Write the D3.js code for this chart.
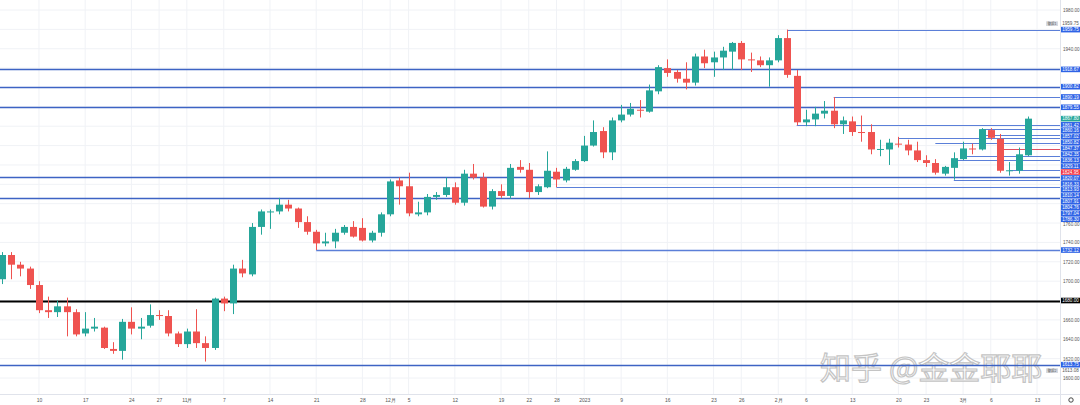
<!DOCTYPE html>
<html><head><meta charset="utf-8">
<script src="https://cdn.jsdelivr.net/npm/d3@7"></script>
<style>body{margin:0;background:#fff}svg{display:block}</style>
</head><body>
<svg id="c" width="1080" height="405"></svg>
<script>
// ---------------- DATA ----------------
const dates = [
"2022-10-04","2022-10-05","2022-10-06","2022-10-07",
"2022-10-10","2022-10-11","2022-10-12","2022-10-13","2022-10-14",
"2022-10-17","2022-10-18","2022-10-19","2022-10-20","2022-10-21",
"2022-10-24","2022-10-25","2022-10-26","2022-10-27","2022-10-28",
"2022-10-31","2022-11-01","2022-11-02","2022-11-03","2022-11-04",
"2022-11-07","2022-11-08","2022-11-09","2022-11-10","2022-11-11",
"2022-11-14","2022-11-15","2022-11-16","2022-11-17","2022-11-18",
"2022-11-21","2022-11-22","2022-11-23","2022-11-24","2022-11-25",
"2022-11-28","2022-11-29","2022-11-30","2022-12-01","2022-12-02",
"2022-12-05","2022-12-06","2022-12-07","2022-12-08","2022-12-09",
"2022-12-12","2022-12-13","2022-12-14","2022-12-15","2022-12-16",
"2022-12-19","2022-12-20","2022-12-21","2022-12-22","2022-12-23",
"2022-12-27","2022-12-28","2022-12-29","2022-12-30",
"2023-01-03","2023-01-04","2023-01-05","2023-01-06",
"2023-01-09","2023-01-10","2023-01-11","2023-01-12","2023-01-13",
"2023-01-16","2023-01-17","2023-01-18","2023-01-19","2023-01-20",
"2023-01-23","2023-01-24","2023-01-25","2023-01-26","2023-01-27",
"2023-01-30","2023-01-31","2023-02-01","2023-02-02","2023-02-03",
"2023-02-06","2023-02-07","2023-02-08","2023-02-09","2023-02-10",
"2023-02-13","2023-02-14","2023-02-15","2023-02-16","2023-02-17",
"2023-02-20","2023-02-21","2023-02-22","2023-02-23","2023-02-24",
"2023-02-27","2023-02-28","2023-03-01","2023-03-02","2023-03-03",
"2023-03-06","2023-03-07","2023-03-08","2023-03-09","2023-03-10"];
const futureDates = ["2023-03-13"];

const open = [1702,1727,1717,1713,1696,1670,1668,1674,1668,1646,1651,1652,1630,1628,1658,1651,1654,1665,1664,1646,
1635,1648,1636,1631,1682,1677,1713,1707,1756,1771,1772,1779,1775,1761,1751,1739,1741,1750,1756,1755,
1742,1750,1769,1804,1798,1769,1771,1787,1789,1797,1781,1811,1807,1777,1793,1788,1818,1815,1792,1797,
1813,1804,1815,1824,1840,1855,1833,1866,1872,1877,1875,1896,1920,1916,1909,1905,1932,1926,1931,1937,
1946,1929,1928,1923,1928,1951,1912,1864,1867,1873,1876,1862,1865,1854,1854,1836,1836,1842,1841,1835,
1825,1822,1811,1817,1826,1837,1836,1856,1847,1814,1814,1830];
const high = [1730,1730,1720,1715,1700,1684,1680,1683,1671,1668,1662,1653,1637,1661,1673,1662,1676,1670,1670,1648,
1651,1671,1643,1683,1684,1717,1722,1760,1774,1774,1786,1784,1776,1767,1753,1750,1754,1758,1762,1765,
1752,1771,1805,1807,1812,1782,1790,1792,1807,1802,1815,1821,1812,1795,1800,1821,1825,1822,1800,1834,
1817,1818,1826,1850,1866,1859,1869,1882,1884,1887,1903,1923,1929,1918,1926,1935,1939,1937,1942,1947,
1948,1936,1932,1931,1954,1959.75,1918,1877,1880,1886,1890.19,1870,1870,1871,1862,1846,1847,1849,1846,1844,
1830,1826,1819,1833,1844,1842,1858,1858,1852,1823,1838,1870];
const low = [1697,1702,1705,1692,1667,1662,1663,1643,1643,1643,1648,1630,1625,1619,1645,1640,1652,1660,1643,1632,
1631,1631,1617,1629,1669,1666,1704,1705,1748,1754,1769,1772,1755,1748,1732.12,1736,1734,1748,1745,1741,
1740,1746,1767,1779,1767,1767,1768,1784,1787,1779,1778,1805,1776,1774,1786,1785,1812,1786,1789,1796,
1797.04,1802,1814,1823,1839,1827,1825,1864,1870,1869,1874,1893,1911,1905,1898,1902,1920,1911,1918,1918,
1918,1916,1921,1900.82,1926,1910,1861,1860,1860,1868,1858,1852,1850,1844,1831,1829,1820,1838,1830,1823,
1818,1810,1809,1804.76,1825,1831,1835,1846,1812,1809,1811,1829];
const close = [1727,1717,1713,1696,1670,1668,1674,1668,1645,1651,1653,1631,1628,1658,1651,1653,1665,1664,1646,1635,
1648,1636,1631,1682,1677,1713,1708,1756,1772,1772,1779,1775,1761,1751,1739,1741,1750,1756,1746,1742,
1750,1769,1803,1798,1770,1771,1787,1789,1797,1781,1811,1807,1777,1793,1788,1817,1815,1792,1798,1814,
1805,1816,1824,1840,1854,1833,1866,1872,1878,1876,1897,1921,1915,1909,1905,1932,1925,1931,1938,1946,
1929,1928,1923,1928,1951,1913,1864,1867,1873,1876,1862,1866,1854,1853,1836,1836.5,1843,1841,1835,1825,
1822,1812,1818,1827,1837,1836,1857,1848,1814,1814.5,1831,1867.8];

// horizontal levels drawn on the chart (value, anchor date or null = whole width)
const levelValues = [1959.75,1918.67,1900.82,1890.19,1879.55,1861.42,1857.02,1850.82,1847.37,1842.35,1836.13,1829.11,1824.95,1814.33,1807.91,1804.76,1797.04,1786.30,1732.12,1680.00,1613.75];
const levelAnchors = ["2023-02-02",null,null,"2023-02-09",null,"2023-02-03","2023-03-03","2023-03-03","2023-02-20","2023-02-24","2023-03-07","2023-03-01","2023-02-28","2023-03-08",null,"2023-02-28","2022-12-28",null,"2022-11-21",null,null];

// price-scale labels
const priceLabels = [1959.75,1918.67,1900.82,1890.19,1879.55,1867.80,1861.42,1860.16,1857.02,1850.82,1847.37,1842.35,1836.13,1829.11,1824.95,1820.07,1816.33,1813.93,1810.14,1807.91,1804.76,1797.04,1786.30,1732.12,1680.00,1613.75];
const lastPrice = 1867.80;
const redLabel = 1824.95;
const blackLevel = 1680.00;
const alertTop = {text:"警报1", value:1959.75};
const alertBottom = {text:"警报2", value:1613.08};

const priceTicks = [1600,1620,1640,1660,1680,1700,1720,1740,1760,1780,1800,1820,1840,1860,1880,1900,1920,1940,1960,1980];
const timeTicks = [
["2022-10-10","10"],["2022-10-17","17"],["2022-10-24","24"],["2022-10-27","27"],["2022-11-01","11月"],
["2022-11-07","7"],["2022-11-14","14"],["2022-11-21","21"],["2022-11-28","28"],["2022-12-01","12月"],
["2022-12-05","5"],["2022-12-12","12"],["2022-12-19","19"],["2022-12-22","22"],["2022-12-28","28"],
["2023-01-03","2023"],["2023-01-09","9"],["2023-01-16","16"],["2023-01-23","23"],["2023-01-26","26"],
["2023-02-01","2月"],["2023-02-06","6"],["2023-02-13","13"],["2023-02-20","20"],["2023-02-23","23"],
["2023-03-01","3月"],["2023-03-06","6"],["2023-03-13","13"]];
const watermark = "知乎 @金金耶耶";

// ---------------- DRAW ----------------
const svg = d3.select("#c");
const W = 1080, H = 405, plotR = 1060, plotB = 394;
const allDates = dates.concat(futureDates);
const x = d3.scaleLinear().domain([0, allDates.length - 1]).range([2, 1037]);
const y = d3.scaleLinear().domain([1600, 1980]).range([378, 10]);
const xi = d => allDates.indexOf(d);
const font = "'Liberation Sans', Arial, sans-serif";

svg.append("rect").attr("width", W).attr("height", H).attr("fill", "#fff");

// grid
const grid = svg.append("g");
grid.selectAll("line.h").data(priceTicks).join("line")
  .attr("x1", 0).attr("x2", plotR).attr("y1", d => y(d)).attr("y2", d => y(d))
  .attr("stroke", "#f0f2f6").attr("stroke-width", 1);
grid.selectAll("line.v").data(timeTicks).join("line")
  .attr("x1", d => x(xi(d[0]))).attr("x2", d => x(xi(d[0])))
  .attr("y1", 0).attr("y2", plotB)
  .attr("stroke", "#f0f2f6").attr("stroke-width", 1);

// watermark
svg.append("text").attr("x", 820).attr("y", 379)
  .attr("font-family", "'Noto Sans CJK SC', sans-serif").attr("font-size", 31)
  .attr("fill", "rgba(255,255,255,0.5)").attr("stroke", "#c4c4c4").attr("stroke-width", 1.2)
  .text(watermark);

// levels
const levels = levelValues.map((v, k) => ({v, a: levelAnchors[k]}));
svg.append("g").selectAll("line").data(levels).join("line")
  .attr("x1", d => d.a ? x(xi(d.a)) : 0).attr("x2", plotR)
  .attr("y1", d => Math.round(y(d.v)) + 0.5).attr("y2", d => Math.round(y(d.v)) + 0.5)
  .attr("stroke", d => d.v === blackLevel ? "#000" : (d.v === 1836.13 ? "#e05060" : (d.a ? "#5b7fd8" : "#3d63c4")))
  .attr("stroke-width", d => d.v === blackLevel ? 2 : (d.a && d.v !== 1732.12 ? 1 : 1.5));

// candles
const up = "#26a69a", dn = "#ef5350";
const cdl = svg.append("g");
const cd = dates.map((d, i) => ({i, o: open[i], h: high[i], l: low[i], c: close[i]}));
cdl.selectAll("line").data(cd).join("line")
  .attr("x1", d => Math.round(x(d.i)) + 0.5).attr("x2", d => Math.round(x(d.i)) + 0.5)
  .attr("y1", d => y(d.h)).attr("y2", d => y(d.l))
  .attr("stroke", d => d.c >= d.o ? up : dn).attr("stroke-width", 1);
cdl.selectAll("rect").data(cd).join("rect")
  .attr("x", d => Math.round(x(d.i)) + 0.5 - 3.5).attr("width", 7)
  .attr("y", d => y(Math.max(d.o, d.c)))
  .attr("height", d => Math.max(1, Math.abs(y(d.o) - y(d.c))))
  .attr("fill", d => d.c >= d.o ? up : dn);

// axes area
svg.append("rect").attr("x", plotR).attr("y", 0).attr("width", W - plotR).attr("height", H).attr("fill", "#fff");
svg.append("rect").attr("x", 0).attr("y", plotB).attr("width", W).attr("height", H - plotB).attr("fill", "#fff");
svg.append("line").attr("x1", plotR + 0.5).attr("x2", plotR + 0.5).attr("y1", 0).attr("y2", H).attr("stroke", "#e0e3eb");
svg.append("line").attr("x1", 0).attr("x2", W).attr("y1", plotB + 0.5).attr("y2", plotB + 0.5).attr("stroke", "#e0e3eb");

// stacked price labels (computed first so covered tick labels can be skipped)
const lh = 5.9;
const sorted = priceLabels.slice().sort((a, b) => b - a);
let prev = -Infinity;
const lab = sorted.map(v => { let yy = Math.max(y(v), prev + lh); prev = yy; return {v, yy}; });
const alertYs = [y(alertTop.value) - lh, y(1613.75) + lh];
const occupied = lab.map(d => d.yy).concat(alertYs);

// price axis: ticks hidden behind labels are dropped, partly hidden ones nudged clear
const visTicks = priceTicks.filter(t => d3.min(occupied, o => Math.abs(o - y(t))) > 3.5);
const yAxis = svg.append("g").attr("transform", `translate(${plotR + 2},0)`)
  .call(d3.axisRight(y).tickValues(visTicks).tickFormat(d3.format(".2f")).tickSize(0).tickPadding(1));
yAxis.select(".domain").remove();
yAxis.selectAll(".tick").each(function(t) {
  const ty = y(t);
  const near = occupied.filter(o => Math.abs(o - ty) < 5.8);
  if (near.length) {
    const o = near[0];
    const ny = ty > o ? o + 5.4 : o - 5.4;
    d3.select(this).attr("transform", `translate(0,${ny})`);
  }
});
yAxis.selectAll("text").attr("font-family", font).attr("font-size", 4.6).attr("fill", "#555");

const xAxis = svg.append("g").attr("transform", `translate(0,${plotB})`)
  .call(d3.axisBottom(x).tickValues(timeTicks.map(t => xi(t[0])))
    .tickFormat((d, k) => timeTicks[k][1]).tickSize(0).tickPadding(4));
xAxis.select(".domain").remove();
xAxis.selectAll("text").attr("font-family", font).attr("font-size", 5).attr("fill", "#555");

const lg = svg.append("g");
lg.selectAll("rect").data(lab).join("rect")
  .attr("x", plotR + 1).attr("width", W - plotR - 1).attr("y", d => d.yy - 2.8).attr("height", 5.6)
  .attr("fill", d => d.v === lastPrice ? up : d.v === redLabel ? "#f23645" : d.v === blackLevel ? "#000" : "#2e63e6");
lg.selectAll("text").data(lab).join("text")
  .attr("x", plotR + 10.5).attr("y", d => d.yy + 1.7).attr("text-anchor", "middle")
  .attr("font-family", font).attr("font-size", 4.6).attr("fill", "#fff")
  .text(d => d3.format(".2f")(d.v));

// alert tags
[[alertTop, alertYs[0]], [alertBottom, alertYs[1]]].forEach(([a, base]) => {
  svg.append("rect").attr("x", 1046).attr("y", base - 2.4).attr("width", 12).attr("height", 4.8)
    .attr("fill", "#d6d9e0").attr("rx", 0.5);
  svg.append("text").attr("x", 1052).attr("y", base + 1.4).attr("text-anchor", "middle")
    .attr("font-family", "'Noto Sans CJK SC', sans-serif").attr("font-size", 3.6).attr("fill", "#555").text(a.text);
  svg.append("text").attr("x", plotR + 10.5).attr("y", base + 1.7).attr("text-anchor", "middle")
    .attr("font-family", font).attr("font-size", 4.6).attr("fill", "#555").text(d3.format(".2f")(a.value));
});

// settings gear
svg.append("circle").attr("cx", 1071).attr("cy", 400).attr("r", 2.2)
  .attr("fill", "none").attr("stroke", "#333").attr("stroke-width", 0.9);
</script>
</body></html>
